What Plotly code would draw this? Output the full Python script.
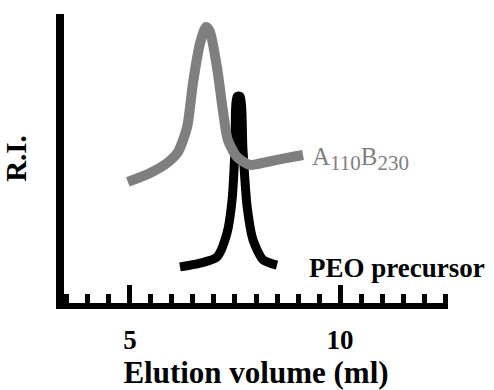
import plotly.graph_objects as go

# Elution volume (ml) and normalized R.I. response
copolymer_x = [4.95, 5.48, 5.88, 6.14, 6.36, 6.50, 6.67, 6.81, 6.90, 7.07, 7.21, 7.33, 7.55, 7.86, 8.26, 8.74, 9.12]
copolymer_y = [0.419, 0.450, 0.484, 0.522, 0.609, 0.761, 0.900, 0.955, 0.940, 0.817, 0.668, 0.564, 0.505, 0.478, 0.488, 0.502, 0.512]

peo_x = [6.19, 6.67, 7.07, 7.31, 7.43, 7.50, 7.55, 7.62, 7.69, 7.79, 7.93, 8.17, 8.50]
peo_y = [0.125, 0.138, 0.159, 0.242, 0.356, 0.529, 0.715, 0.715, 0.529, 0.332, 0.218, 0.149, 0.131]

copolymer_label = "A<sub><span style='font-size:21px'>110</span></sub>B<sub><span style='font-size:21px'>230</span></sub>"
peo_label = "PEO precursor"
x_tick_vals = [5, 10]
x_tick_text = ["5", "10"]

FONT = "Liberation Serif"
GRAY = "#7f7f7f"

fig = go.Figure()
fig.add_trace(go.Scatter(x=peo_x, y=peo_y, mode="lines",
                         line=dict(color="black", width=9, shape="spline", smoothing=0.7),
                         showlegend=False, hoverinfo="skip"))
fig.add_trace(go.Scatter(x=copolymer_x, y=copolymer_y, mode="lines",
                         line=dict(color=GRAY, width=10, shape="spline", smoothing=0.7),
                         showlegend=False, hoverinfo="skip"))

fig.add_annotation(x=9.28, y=0.50, xref="x", yref="y", text=copolymer_label,
                   showarrow=False, xanchor="left", yanchor="middle",
                   font=dict(family=FONT, size=25, color=GRAY))
fig.add_annotation(x=9.22, y=0.12, xref="x", yref="y", text="<b>" + peo_label + "</b>",
                   showarrow=False, xanchor="left", yanchor="middle",
                   font=dict(family=FONT, size=27, color="black"))

fig.update_layout(
    width=494, height=390,
    margin=dict(l=64, r=46, t=14, b=87),
    paper_bgcolor="white", plot_bgcolor="white",
    font=dict(family=FONT, color="black"),
    xaxis=dict(range=[3.43, 12.57], showgrid=False, zeroline=False, automargin=False,
               showline=True, linecolor="black", linewidth=6,
               tickmode="array", tickvals=x_tick_vals, ticktext=x_tick_text,
               ticks="inside", ticklen=18, tickwidth=5, tickcolor="black",
               ticklabelstandoff=8,
               tickfont=dict(family=FONT, size=27, color="black", weight="bold"),
               minor=dict(dtick=0.5, tick0=0, ticks="inside", ticklen=9,
                          tickwidth=5, tickcolor="black", showgrid=False),
               title=dict(text="<b>Elution volume (ml)</b>",
                          font=dict(family=FONT, size=31, color="black"))),
    yaxis=dict(range=[0, 1], showgrid=False, zeroline=False, automargin=False,
               showline=True, linecolor="black", linewidth=8,
               showticklabels=False, ticks="",
               title=dict(text="<b>R.I.</b>", standoff=30,
                          font=dict(family=FONT, size=29, color="black"))),
)

fig.write_html("out.html")
